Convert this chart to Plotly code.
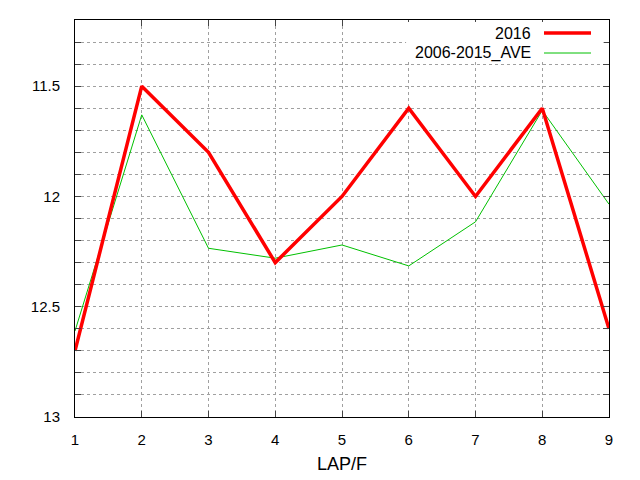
import plotly.graph_objects as go

laps = [1, 2, 3, 4, 5, 6, 7, 8, 9]
y2016 = [12.7, 11.5, 11.8, 12.3, 12.0, 11.6, 12.0, 11.6, 12.6]
ave = [12.61, 11.63, 12.235, 12.28, 12.22, 12.315, 12.115, 11.61, 12.035]
names = ['2016', '2006-2015_AVE']

ytick_vals = [round(11.2 + 0.1 * i, 1) for i in range(19)]
ytick_text = [('%g' % v) if abs(v * 2 - round(v * 2)) < 1e-9 else '' for v in ytick_vals]

fig = go.Figure()
fig.add_trace(go.Scatter(x=laps, y=ave, mode='lines', name=names[1],
                         line=dict(color='#00c000', width=1)))
fig.add_trace(go.Scatter(x=laps, y=y2016, mode='lines', name=names[0],
                         line=dict(color='#ff0000', width=3.5)))

# gnuplot style legend: text right aligned, sample line on the right
fig.add_shape(type='rect', xref='paper', yref='paper', x0=0.62, x1=0.99, y0=0.895, y1=0.995,
              fillcolor='white', line=dict(width=0), layer='above')
for i, (nm, col, w) in enumerate([(names[0], '#ff0000', 3.5), (names[1], '#00c000', 1)]):
    yp = 1 - (13 + 20 * i) / 397
    fig.add_annotation(text=nm, xref='paper', yref='paper', x=(533 - 75) / 534, y=yp,
                       xanchor='right', yanchor='middle', showarrow=False,
                       font=dict(size=16, color='#000000'))
    fig.add_shape(type='line', xref='paper', yref='paper', x0=(544 - 75) / 534, x1=(591 - 75) / 534,
                  y0=yp, y1=yp, line=dict(color=col, width=w), layer='above')

# page has an 8px body margin, so the figure is 8px smaller and margins shifted
fig.update_layout(
    width=632, height=472,
    margin=dict(l=67, r=31, t=12, b=63, autoexpand=False),
    plot_bgcolor='white', paper_bgcolor='white',
    showlegend=False,
    font=dict(family='Liberation Sans, Arial, sans-serif', size=15, color='#000000'),
    xaxis=dict(range=[1, 9], tickvals=laps, ticks='inside', ticklen=6, mirror='ticks',
               showline=True, linecolor='black', linewidth=1, automargin=False,
               showgrid=True, gridcolor='#a0a0a0', griddash='3px,3px', gridwidth=1,
               zeroline=False, ticklabelstandoff=9, title=dict(text='LAP/F', standoff=10)),
    yaxis=dict(range=[13, 11.2], tickvals=ytick_vals, ticktext=ytick_text, ticks='inside',
               ticklen=6, mirror='ticks', showline=True, linecolor='black', linewidth=1,
               showgrid=True, gridcolor='#a0a0a0', griddash='3px,3px', gridwidth=1,
               automargin=False, zeroline=False, ticklabelstandoff=11),
)

fig.write_html("out.html")
